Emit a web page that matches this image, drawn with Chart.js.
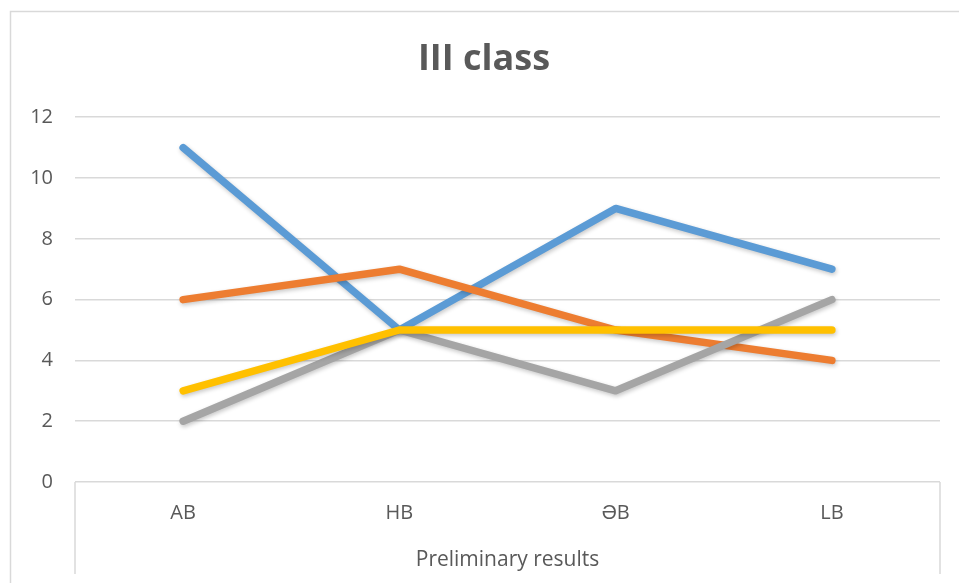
<!DOCTYPE html>
<html>
<head>
<meta charset="utf-8">
<script src="https://cdn.jsdelivr.net/npm/chart.js@4"></script>
<style>
  body { margin: 0; background: #fff; }
  #wrap { width: 959px; height: 583px; }
</style>
</head>
<body>
<div id="wrap"><canvas id="chart" width="959" height="583"></canvas></div>
<script>
const categories = ["AB", "HB", "ƏB", "LB"];
const blueValues = [11, 5, 9, 7];
const orangeValues = [6, 7, 5, 4];
const grayValues = [2, 5, 3, 6];
const yellowValues = [3, 5, 5, 5];
const yTicks = [0, 2, 4, 6, 8, 10, 12];

const FONT = "'Open Sans', sans-serif";
const TEXT = "#595959";
const GRID = "#d9d9d9";

// outer frame + the box under the category labels
const framePlugin = {
  id: "frame",
  beforeDraw(chart) {
    const c = chart.ctx;
    c.save();
    c.strokeStyle = GRID;
    c.lineWidth = 1.5;
    c.strokeRect(10.5, 11.5, 960, 600);
    c.restore();
  },
  afterDraw(chart) {
    const c = chart.ctx;
    const area = chart.chartArea;
    c.save();
    c.strokeStyle = GRID;
    c.lineWidth = 1.5;
    c.beginPath();
    c.moveTo(area.left, area.bottom);
    c.lineTo(area.left, chart.height - 9);
    c.moveTo(area.right, area.bottom);
    c.lineTo(area.right, chart.height - 9);
    c.stroke();
    c.restore();
  },
  beforeDatasetsDraw(chart) {
    const c = chart.ctx;
    c.save();
    c.shadowColor = "rgba(0,0,0,0.22)";
    c.shadowBlur = 4;
    c.shadowOffsetX = 1;
    c.shadowOffsetY = 2;
  },
  afterDatasetsDraw(chart) {
    chart.ctx.restore();
  }
};

function line(data, color, order) {
  return {
    data: data,
    borderColor: color,
    backgroundColor: color,
    borderWidth: 7.5,
    borderCapStyle: "round",
    borderJoinStyle: "round",
    pointRadius: 0,
    tension: 0,
    order: order,
    clip: false
  };
}

new Chart(document.getElementById("chart").getContext("2d"), {
  type: "line",
  data: {
    labels: categories,
    datasets: [
      line(blueValues, "#5b9bd5", 3),
      line(orangeValues, "#ed7d31", 2),
      line(grayValues, "#a5a5a5", 1),
      line(yellowValues, "#ffc000", 0)
    ]
  },
  options: {
    responsive: false,
    animation: false,
    layout: { padding: { left: 28, right: 19, top: 17, bottom: 0 } },
    plugins: {
      legend: { display: false },
      tooltip: { enabled: false },
      title: {
        display: true,
        text: "III class",
        color: TEXT,
        font: { family: FONT, size: 36, weight: "bold" },
        padding: { top: 21, bottom: 36 }
      }
    },
    scales: {
      x: {
        offset: true,
        grid: { display: false, drawTicks: false },
        border: { display: false },
        ticks: { color: TEXT, font: { family: FONT, size: 20 }, padding: 19 },
        title: {
          display: true,
          text: "Preliminary results",
          color: TEXT,
          font: { family: FONT, size: 21 },
          padding: { top: 10, bottom: 10 }
        },
        afterFit(scale) { scale.height = 101; }
      },
      y: {
        min: 0,
        max: 12,
        afterBuildTicks(scale) { scale.ticks = yTicks.map(v => ({ value: v })); },
        grid: { color: GRID, lineWidth: 1.5, drawTicks: false },
        border: { display: false },
        ticks: { color: TEXT, font: { family: FONT, size: 20 }, padding: 22 },
        afterFit(scale) { scale.width = 47; }
      }
    }
  },
  plugins: [framePlugin]
});
</script>
</body>
</html>
